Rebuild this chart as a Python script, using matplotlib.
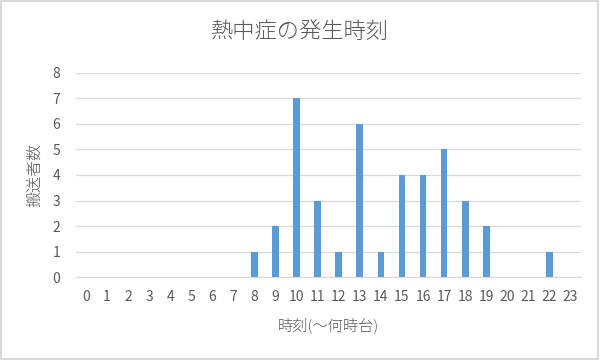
import matplotlib
matplotlib.use("Agg")
from matplotlib import pyplot
from matplotlib.patches import Rectangle

pyplot.rcParams["font.family"] = ["Noto Sans CJK JP", "DejaVu Sans"]

hours = list(range(24))
counts = [0, 0, 0, 0, 0, 0, 0, 0, 1, 2, 7, 3, 1, 6, 1, 4, 4, 5, 3, 2, 0, 0, 1, 0]
y_ticks = list(range(9))

TITLE = "熱中症の発生時刻"
X_LABEL = "時刻(〜何時台)"
Y_LABEL = "搬送者数"

BLUE = "#5B9BD5"
GRID = "#D9D9D9"
TEXT = "#595959"

figure = pyplot.figure(figsize=(6, 3.6), dpi=100)
figure.set_facecolor("white")
# plot area in pixels: left 75.5, right 581, top 72.7, bottom 277.3
axis = figure.add_axes([75.5 / 600, 1 - 277.3 / 360, (581 - 75.5) / 600, (277.3 - 72.7) / 360])

axis.bar(hours, counts, width=0.32, color=BLUE, zorder=3)
axis.set_xlim(-0.5, 23.5)
axis.set_ylim(0, 8)
axis.set_xticks(hours)
axis.set_xticklabels([str(h) for h in hours])
axis.set_yticks(y_ticks)
axis.tick_params(axis="both", length=0, labelsize=10, colors=TEXT)
axis.tick_params(axis="x", pad=9)
axis.tick_params(axis="y", pad=11)
axis.grid(axis="y", color=GRID, lw=0.9, zorder=0)
for side in ["top", "right", "left"]:
    axis.spines[side].set_visible(False)
axis.spines["bottom"].set_color(GRID)
axis.spines["bottom"].set_linewidth(0.9)

figure.text(300 / 600, 1 - 32 / 360, TITLE, fontsize=16, color=TEXT, fontweight="light",
            ha="center", va="center")
figure.text(328 / 600, 1 - 325 / 360, X_LABEL, fontsize=11, color=TEXT, fontweight="light",
            ha="center", va="center")
figure.text(35 / 600, 1 - 175 / 360, Y_LABEL, fontsize=11.5, color=TEXT, fontweight="light",
            ha="center", va="center", rotation=90)

figure.patches.append(Rectangle((0.002, 0.003), 0.995, 0.993, transform=figure.transFigure,
                                fill=False, edgecolor=GRID, lw=1.5))

figure.savefig("out.png", dpi=100)
